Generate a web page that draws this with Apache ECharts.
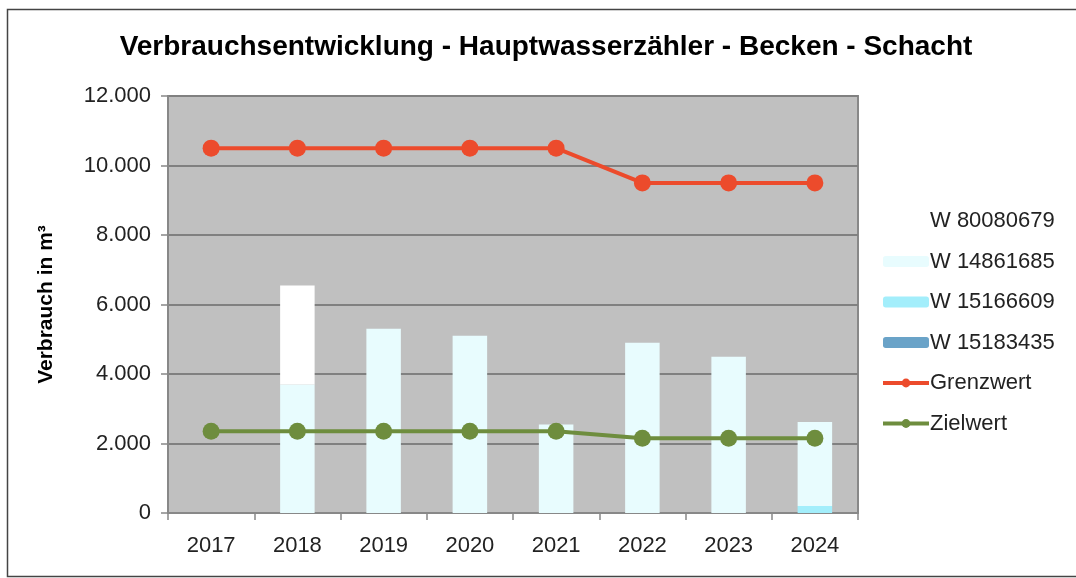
<!DOCTYPE html>
<html><head><meta charset="utf-8">
<script src="https://cdn.jsdelivr.net/npm/echarts@6/dist/echarts.min.js"></script>
<style>html,body{margin:0;padding:0;background:#fff}#c{width:1076px;height:578px}</style>
</head><body><div id="c"></div>
<script>
const years = ['2017','2018','2019','2020','2021','2022','2023','2024'];
const w15183435 = [0, 0, 0, 0, 0, 0, 0, 0];
const w15166609 = [0, 0, 0, 0, 0, 0, 0, 200];
const w14861685 = [0, 3700, 5300, 5100, 2550, 4900, 4500, 2420];
const w80080679 = [0, 2850, 0, 0, 0, 0, 0, 0];
const grenzwert = [10500, 10500, 10500, 10500, 10500, 9500, 9500, 9500];
const zielwert = [2350, 2350, 2350, 2350, 2350, 2150, 2150, 2150];

const font = 'Liberation Sans, Arial, sans-serif';
const chart = echarts.init(document.getElementById('c'));
const barS = (name, data, color) => ({
  name, type: 'bar', stack: 'v', data, barWidth: '40%',
  itemStyle: { color }, z: 2
});
const lineS = (name, data, color) => ({
  name, type: 'line', data, symbol: 'circle', symbolSize: 17,
  lineStyle: { color, width: 4 }, itemStyle: { color }, z: 5
});
chart.setOption({
  animation: false,
  title: {
    text: 'Verbrauchsentwicklung - Hauptwasserzähler - Becken - Schacht',
    left: 541, top: 28, textAlign: 'center',
    textStyle: { fontFamily: font, fontSize: 28, fontWeight: 'bold', color: '#000' }
  },
  graphic: [{
    type: 'rect', shape: { x: 7.5, y: 9.5, width: 1100, height: 567 },
    style: { fill: 'none', stroke: '#444', lineWidth: 1.5 }, z: -10
  }],
  legend: {
    orient: 'vertical', left: 876, top: 205, itemGap: 18.5,
    itemWidth: 46, itemHeight: 11,
    textStyle: { fontFamily: font, fontSize: 22, color: '#222', padding: [0,0,0,-4] },
    data: [
      { name: 'W 80080679' }, { name: 'W 14861685' }, { name: 'W 15166609' }, { name: 'W 15183435' },
      { name: 'Grenzwert', lineStyle: { width: 4 } }, { name: 'Zielwert', lineStyle: { width: 4 } }
    ]
  },
  grid: { left: 168, right: 218, top: 96, bottom: 65, show: true, backgroundColor: '#c0c0c0', borderColor: '#888', borderWidth: 2 },
  xAxis: {
    type: 'category', data: years,
    axisLine: { lineStyle: { color: '#888', width: 2 } },
    axisTick: { show: true, length: 7, lineStyle: { color: '#888', width: 1.5 } },
    axisLabel: { fontFamily: font, fontSize: 22, color: '#222', margin: 22 }
  },
  yAxis: {
    type: 'value', min: 0, max: 12000, interval: 2000,
    name: 'Verbrauch in m³', nameLocation: 'middle', nameGap: 111, nameRotate: 90,
    nameTextStyle: { fontFamily: font, fontSize: 21, fontWeight: 'bold', color: '#000' },
    axisLine: { show: true, lineStyle: { color: '#888', width: 2 } },
    axisTick: { show: true, length: 7, lineStyle: { color: '#888', width: 1.5 } },
    splitLine: { lineStyle: { color: '#808080', width: 2 } },
    axisLabel: {
      fontFamily: font, fontSize: 22, color: '#222', margin: 17,
      formatter: v => v === 0 ? '0' : (v / 1000).toFixed(3)
    }
  },
  series: [
    barS('W 15183435', w15183435, '#6aa3c8'),
    barS('W 15166609', w15166609, '#a3eefb'),
    barS('W 14861685', w14861685, '#e8fcfe'),
    barS('W 80080679', w80080679, '#ffffff'),
    lineS('Grenzwert', grenzwert, '#ec4b2c'),
    lineS('Zielwert', zielwert, '#6e8d3e')
  ]
});
</script></body></html>
